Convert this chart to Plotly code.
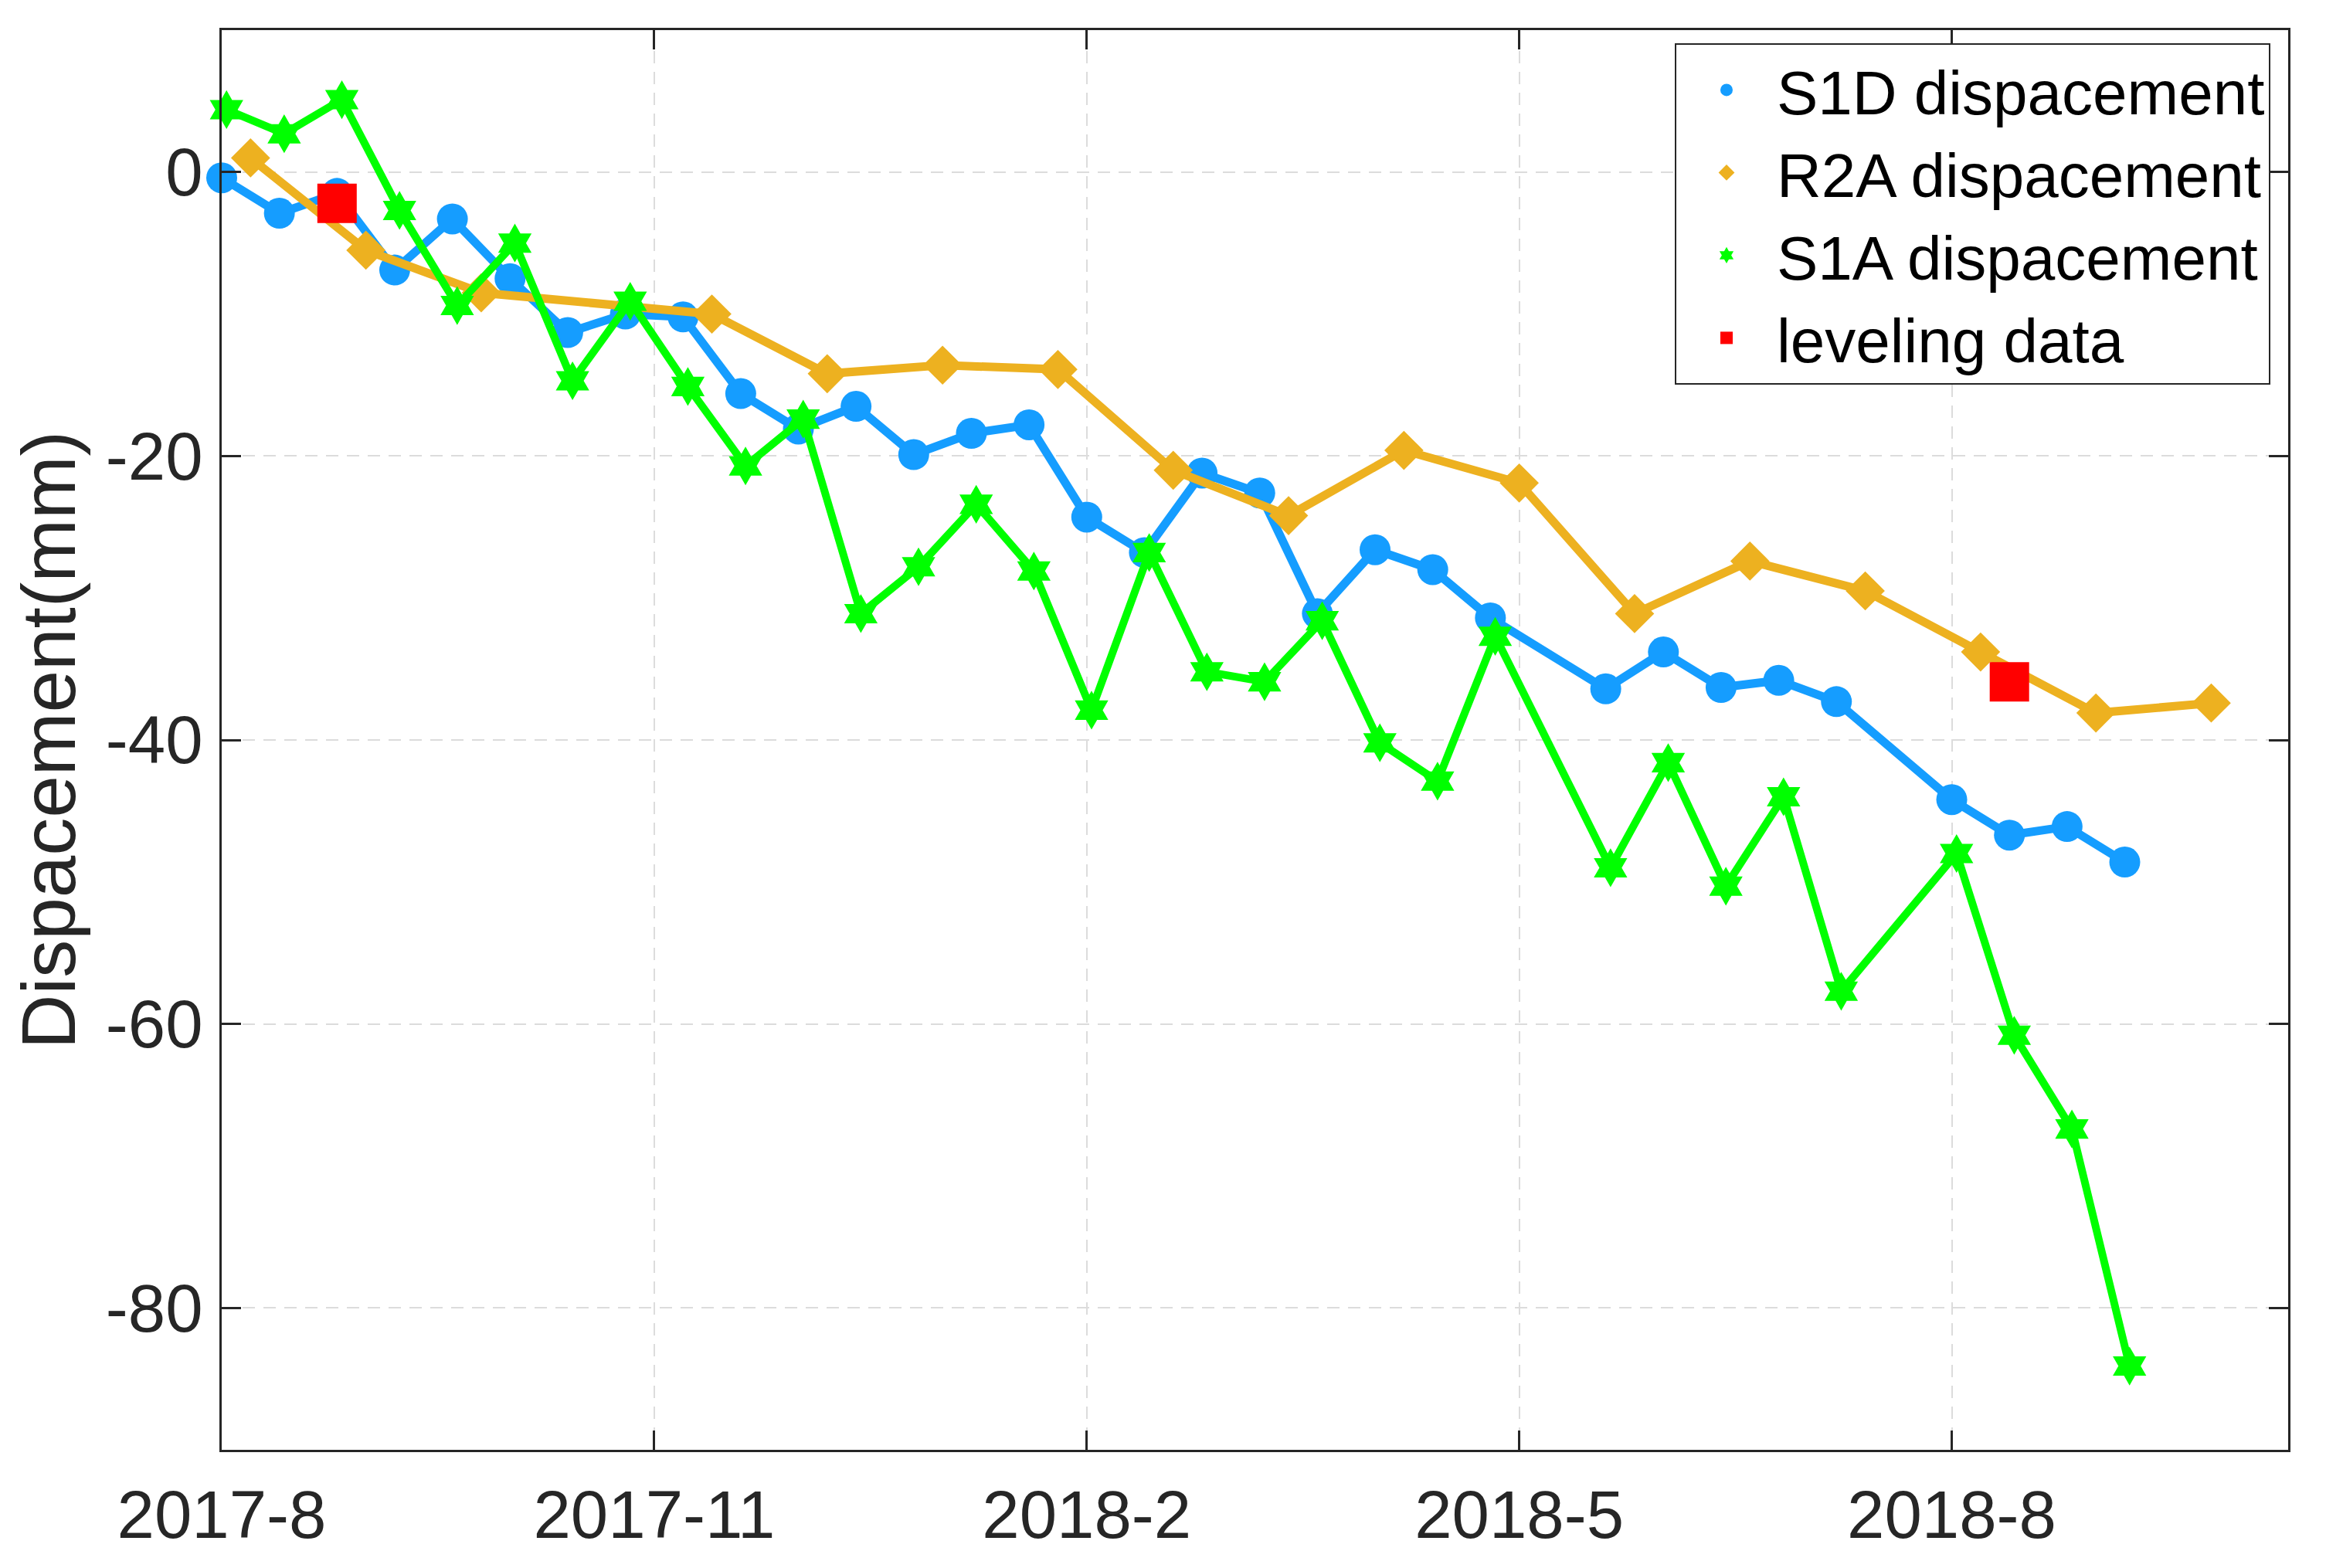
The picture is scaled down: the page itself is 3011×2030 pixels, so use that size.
import plotly.graph_objects as go

# ---- data (days since first acquisition, displacement in mm) ----
s1d_days = [0, 12, 24, 36, 48, 60, 72, 84, 96, 108, 120, 132, 144, 156, 168, 180,
            192, 204, 216, 228, 240, 252, 264, 288, 300, 312, 324, 336, 360, 372, 384, 396]
s1d_vals = [-0.4, -2.9, -1.5, -6.9, -3.3, -7.5, -11.3, -10.0, -10.2, -15.6, -18.1, -16.5,
            -19.9, -18.4, -17.8, -24.3, -26.8, -21.2, -22.6, -31.1, -26.6, -28.0, -31.4,
            -36.4, -33.8, -36.3, -35.8, -37.3, -44.2, -46.7, -46.1, -48.6]

r2a_days = [6, 30, 54, 102, 126, 150, 174, 198, 222, 246, 270, 294, 318, 342, 366, 390, 414]
r2a_vals = [1.0, -5.5, -8.5, -10.0, -14.2, -13.6, -13.9, -21.0, -24.2, -19.6, -21.9,
            -31.1, -27.4, -29.5, -33.8, -38.1, -37.4]

s1a_days = [1, 13, 25, 37, 49, 61, 73, 85, 97, 109, 121, 133, 145, 157, 169, 181,
            193, 205, 217, 229, 241, 253, 265, 289, 301, 313, 325, 337, 361, 373, 385, 397]
s1a_vals = [4.4, 2.7, 5.1, -2.7, -9.4, -5.0, -14.7, -9.1, -15.1, -20.7, -17.4, -31.1,
            -27.8, -23.4, -28.1, -37.9, -26.8, -35.2, -35.9, -31.6, -40.2, -42.9, -32.7,
            -49.0, -41.6, -50.3, -44.0, -57.7, -48.0, -60.8, -67.4, -84.1]

lev_days = [24, 372]
lev_vals = [-2.2, -35.9]

tick_days = [0, 90, 180, 270, 360]
tick_labels = ["2017-8", "2017-11", "2018-2", "2018-5", "2018-8"]
y_ticks = [0, -20, -40, -60, -80]
y_tick_labels = ["0", "-20", "-40", "-60", "-80"]

series_names = ["S1D dispacement", "R2A dispacement", "S1A dispacement", "leveling data"]

BLUE = "#159DFF"
ORANGE = "#EDB120"
GREEN = "#00FF00"
RED = "#FF0000"
FONT = "Liberation Sans, Arial, sans-serif"
AX = "#262626"

fig = go.Figure()

# data traces (lines + markers; legend handled by marker-only entries)
fig.add_trace(go.Scatter(x=s1d_days, y=s1d_vals, mode="lines+markers", showlegend=False,
                         line=dict(color=BLUE, width=11),
                         marker=dict(symbol="circle", size=40, color=BLUE),
                         cliponaxis=False, legendgroup="s1d"))
fig.add_trace(go.Scatter(x=r2a_days, y=r2a_vals, mode="lines+markers", showlegend=False,
                         line=dict(color=ORANGE, width=11),
                         marker=dict(symbol="diamond", size=39, color=ORANGE),
                         cliponaxis=False, legendgroup="r2a"))
fig.add_trace(go.Scatter(x=s1a_days, y=s1a_vals, mode="lines+markers", showlegend=False,
                         line=dict(color=GREEN, width=10),
                         marker=dict(symbol="hexagram", size=38, color=GREEN),
                         cliponaxis=False, legendgroup="s1a"))
fig.add_trace(go.Scatter(x=lev_days, y=lev_vals, mode="markers", showlegend=False,
                         marker=dict(symbol="square", size=51, color=RED),
                         cliponaxis=False, legendgroup="lev"))

# legend entries (markers only, as in the reference)
for name, sym, col, grp in zip(series_names,
                               ["circle", "diamond", "hexagram", "square"],
                               [BLUE, ORANGE, GREEN, RED],
                               ["s1d", "r2a", "s1a", "lev"]):
    fig.add_trace(go.Scatter(x=[None], y=[None], mode="markers", name=name,
                             marker=dict(symbol=sym, size=40, color=col),
                             legendgroup=grp))

axis_common = dict(
    showline=True, linecolor=AX, linewidth=3, mirror="ticks",
    ticks="inside", ticklen=25, tickwidth=3, tickcolor=AX,
    showgrid=True, gridcolor="#DCDCDC", gridwidth=2, griddash="16px,11px",
    zeroline=False,
    tickfont=dict(family=FONT, size=87, color=AX),
)

fig.update_xaxes(range=[0, 430], tickmode="array", tickvals=tick_days, ticktext=tick_labels,
                 ticklabelstandoff=7, **axis_common)
fig.update_yaxes(range=[-90, 10], tickmode="array", tickvals=y_ticks, ticktext=y_tick_labels,
                 title=dict(text="Dispacement(mm)", font=dict(family=FONT, size=98, color=AX),
                            standoff=15),
                 ticklabelstandoff=4, **axis_common)

# page body has an 8px default margin: compensate so the plot area lands where the reference has it
fig.update_layout(
    width=3003, height=2022,
    margin=dict(l=279, r=49, t=31, b=153),
    plot_bgcolor="white", paper_bgcolor="white",
    font=dict(family=FONT, color="black"),
    legend=dict(x=0.9914, xanchor="right", y=0.9908, yanchor="top",
                bgcolor="white", bordercolor=AX, borderwidth=2,
                font=dict(family=FONT, size=80, color="black"),
                itemsizing="trace", itemwidth=120, tracegroupgap=0),
)

fig.write_html("out.html")
